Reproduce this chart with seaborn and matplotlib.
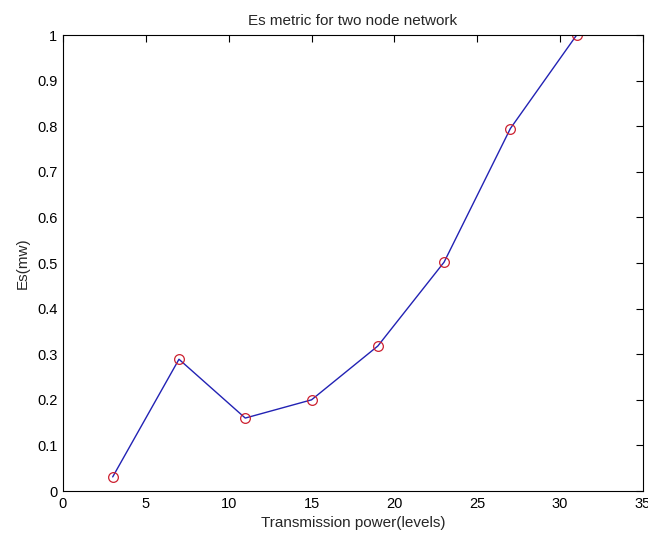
import pandas as pd
import matplotlib
matplotlib.use("Agg")
import matplotlib.pyplot as plt
import seaborn as sns

# values
power_levels = [3, 7, 11, 15, 19, 23, 27, 31]
es_values = [0.031, 0.289, 0.160, 0.200, 0.318, 0.502, 0.795, 1.0]

df = pd.DataFrame({"power": power_levels, "es": es_values})

sns.set_style("white")
plt.rcParams["font.family"] = ["Liberation Sans", "DejaVu Sans"]

fig = plt.figure(figsize=(6.48, 5.39), dpi=100)
ax = fig.add_axes([0.0972, 0.089, 0.895, 0.846])

sns.lineplot(data=df, x="power", y="es", ax=ax, color="#2222b4", linewidth=1.0)
ax.plot(df["power"], df["es"], linestyle="none", marker="o", markersize=7,
        markerfacecolor="none", markeredgecolor="#cc2030", markeredgewidth=0.9)

ax.set_xlim(0, 35)
ax.set_ylim(0, 1)
ax.set_xticks(range(0, 36, 5))
ax.set_yticks([i / 10 for i in range(11)])
ax.set_yticklabels(["0", "0.1", "0.2", "0.3", "0.4", "0.5", "0.6", "0.7", "0.8", "0.9", "1"])
ax.tick_params(direction="in", length=5, width=0.8, top=True, right=True,
               labelsize=10.5, colors="black", pad=4)
for s in ax.spines.values():
    s.set_color("black")
    s.set_linewidth(0.8)

ax.set_title("Es metric for two node network", fontsize=11, pad=7)
ax.set_xlabel("Transmission power(levels)", fontsize=11, labelpad=4)
ax.set_ylabel("Es(mw)", fontsize=11, labelpad=5)

fig.savefig("out.png", dpi=100)
